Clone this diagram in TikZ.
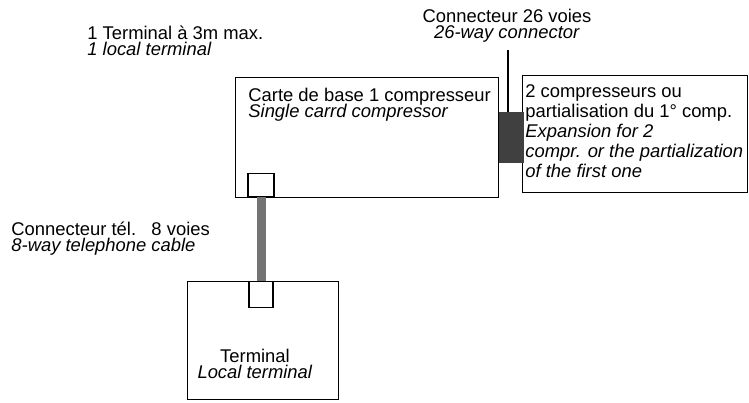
\documentclass[tikz,border=0pt]{standalone}
\usepackage{fontspec}
\setmainfont{Liberation Sans}
\usetikzlibrary{positioning}
\lineskiplimit=-20pt

\begin{document}
\begin{tikzpicture}[
        x=0.5pt,
        y=-0.5pt,
        font=\fontsize{9.2}{7.6}\selectfont,
        box/.style={draw, line width=0.7pt, inner sep=0pt, anchor=north west},
        port/.style={draw, line width=0.7pt, inner sep=0pt, fill=white},
        lbl/.style={inner sep=0pt, anchor=base west, align=left},
        cable/.style={line width=4.5pt, black!55},
        ribbon/.style={fill=black!75, draw=black!75, inner sep=0pt}
    ]
    \useasboundingbox (0,0) rectangle (749,402);

    % boxes
    \node[box, minimum width=131.5pt, minimum height=60pt] (card) at (235,77) {};
    \node[box, minimum width=75.5pt, minimum height=59pt] (term) at (187,281) {};
    \node[box, minimum width=112.5pt, minimum height=58.5pt] (exp) at (522,75) {};

    % ports and cables
    \node[port, anchor=south, minimum width=13pt, minimum height=11.5pt] (cport) at (261,197) {};
    \node[port, anchor=north, minimum width=12pt, minimum height=13pt] (tport) at (261,281) {};
    \draw[cable] (cport.south) -- (tport.north);
    \node[ribbon, minimum width=12pt, minimum height=25pt, right=0pt of card] (rib) {};

    \coordinate (lead) at (508,50);
    \draw[line width=0.7pt] (lead) -- (lead |- rib.north);

    % texts (base = last line)
    \node[lbl] (t3m) at (87,55) {1 Terminal à 3m max.\\\textit{1 local terminal}};
    \node[lbl, anchor=base, align=center] (c26) at (507,38) {Connecteur 26 voies\\\textit{26-way connector}};
    \node[lbl] (cardtxt) at (248,117) {Carte de base 1 compresseur\\\textit{Single carrd compressor}};
    \node[lbl, font=\fontsize{9.2}{10}\selectfont] (exptxt) at (525,177) {2 compresseurs ou\\partialisation du 1° comp.\\\textit{Expansion for 2}\\\textit{compr. or the partialization}\\\textit{of the first one}};
    \node[lbl] (tel) at (11,251) {Connecteur tél.\ \ \ 8 voies\\\textit{8-way telephone cable}};
    \node[lbl, anchor=base, align=center] (termtxt) at (255,378) {Terminal\\\textit{Local terminal}};
\end{tikzpicture}
\end{document}
